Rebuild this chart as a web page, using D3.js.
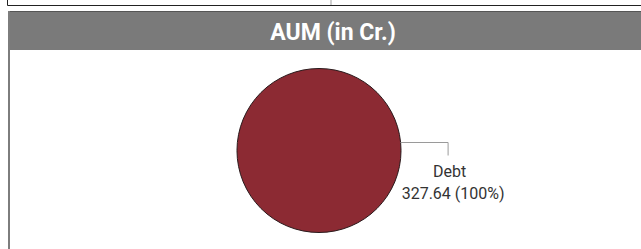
<!DOCTYPE html>
<html>
<head>
<meta charset="utf-8">
<script src="https://cdn.jsdelivr.net/npm/d3@7"></script>
<style>
  html, body { margin: 0; padding: 0; background: #fff; overflow: hidden; width: 641px; height: 249px; }
  svg { display: block; }
</style>
</head>
<body>
<svg id="chart" width="641" height="249"></svg>
<script>
const title = "AUM (in Cr.)";
const categories = ["Debt"];
const values = [327.64];
const colors = ["#8c2a33"];

const W = 641, H = 249;
const svg = d3.select("#chart");

// top strip (bottom of previous panel)
svg.append("path").attr("d", `M7.5,0V5.5H${W}`)
  .attr("fill", "none").attr("stroke", "#222").attr("stroke-width", 1);
svg.append("line").attr("x1", 331).attr("x2", 331).attr("y1", 0).attr("y2", 5)
  .attr("stroke", "#d0d0d0").attr("stroke-width", 2);

// panel header
svg.append("rect").attr("x", 8).attr("y", 11).attr("width", W).attr("height", 39)
  .attr("fill", "#7a7a7a");
svg.append("line").attr("x1", 8).attr("x2", W).attr("y1", 11.5).attr("y2", 11.5)
  .attr("stroke", "#555").attr("stroke-width", 1);
// panel left border
svg.append("rect").attr("x", 8).attr("y", 11).attr("width", 2).attr("height", H)
  .attr("fill", "#7d7d7d");

svg.append("text").attr("x", 333).attr("y", 39.5)
  .attr("text-anchor", "middle")
  .attr("font-family", "Roboto, 'Liberation Sans', sans-serif")
  .attr("font-weight", "bold").attr("font-size", 23)
  .attr("fill", "#fff").text(title);

// pie
const cx = 319, cy = 150.5, r = 82;
const data = categories.map((c, i) => ({ cat: c, value: values[i], color: colors[i] }));
const total = d3.sum(values);
const pie = d3.pie().value(d => d.value).sort(null);
const arc = d3.arc().innerRadius(0).outerRadius(r);
const g = svg.append("g").attr("transform", `translate(${cx},${cy})`);
const arcs = pie(data);
g.selectAll("path.slice").data(arcs).join("path")
  .attr("class", "slice")
  .attr("d", arc)
  .attr("fill", d => d.data.color)
  .attr("stroke", "#2a1a1c").attr("stroke-width", 1);

// labels with leader lines
const fmt = d3.format(".2f");
arcs.forEach(a => {
  const dy = -8;
  const x0 = Math.sqrt(r * r - dy * dy);
  const x1 = x0 + 47.5;
  const y2 = dy + 13;
  g.append("path")
    .attr("d", `M${x0},${dy}H${x1}V${y2}`)
    .attr("fill", "none").attr("stroke", "#9a9a9a").attr("stroke-width", 1);
  g.append("text").attr("x", x1 + 1.5).attr("y", 26)
    .attr("text-anchor", "middle")
    .attr("font-family", "Roboto, sans-serif").attr("font-size", 16)
    .attr("fill", "#333").text(a.data.cat);
  g.append("text").attr("x", x1 + 5).attr("y", 48.5)
    .attr("text-anchor", "middle")
    .attr("font-family", "Roboto, sans-serif").attr("font-size", 16)
    .attr("fill", "#333")
    .text(`${fmt(a.data.value)} (${Math.round(a.data.value / total * 100)}%)`);
});
</script>
</body>
</html>
